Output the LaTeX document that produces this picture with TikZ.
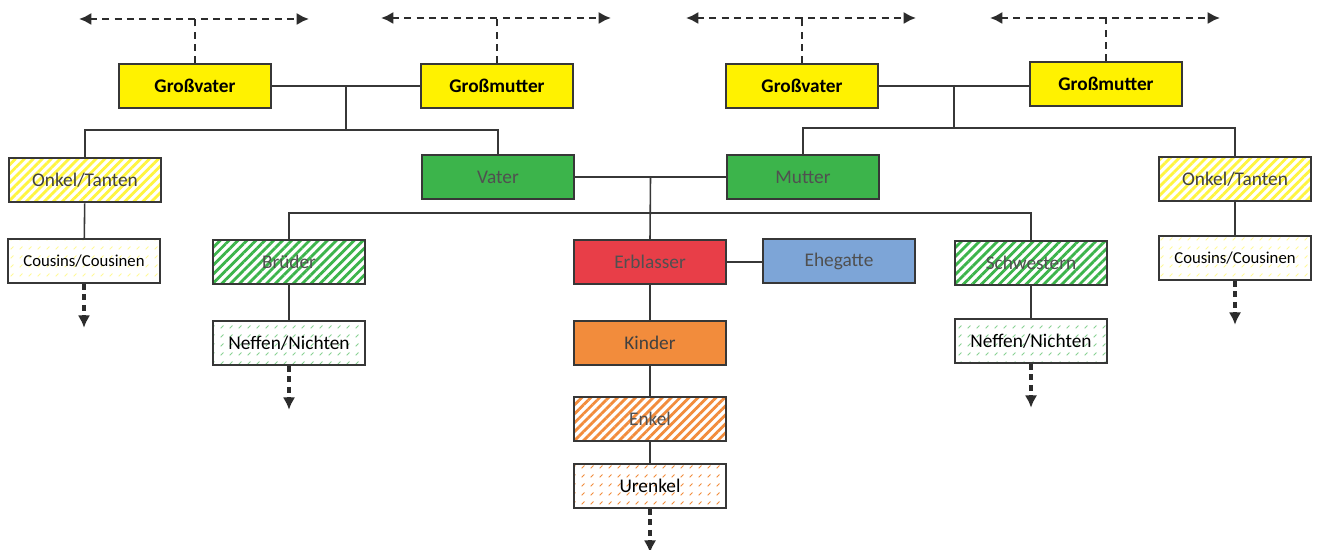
\documentclass[tikz,border=0pt]{standalone}
\usepackage{fontspec}
\setmainfont{Carlito}
\usetikzlibrary{arrows.meta,patterns.meta,calc}

\definecolor{gelb}{RGB}{255,242,0}
\definecolor{gruen}{RGB}{60,180,75}
\definecolor{rot}{RGB}{232,62,72}
\definecolor{blau}{RGB}{125,165,215}
\definecolor{orangeton}{RGB}{242,140,60}
\definecolor{linie}{RGB}{55,55,55}
\definecolor{schrift}{RGB}{80,80,80}

\pgfdeclarepattern{
  name=Strichel,
  type=uncolored,
  bottom left={\pgfpoint{0pt}{0pt}},
  top right={\pgfpoint{5pt}{5pt}},
  tile size={\pgfpoint{5pt}{5pt}},
  code={
    \pgfsetlinewidth{0.45pt}
    \pgfpathmoveto{\pgfpoint{1pt}{1pt}}
    \pgfpathlineto{\pgfpoint{2.6pt}{2.6pt}}
    \pgfusepath{stroke}
  }
}

\begin{document}
\begin{tikzpicture}[x=0.02cm, y=-0.02cm,
  box/.style={draw=linie, line width=0.9pt, minimum width=3.04cm, minimum height=0.88cm, inner sep=0pt, font=\fontsize{11}{13}\selectfont},
  voll/.style={box, fill=#1, text=schrift},
  streifen/.style={box, text=schrift, preaction={fill=white}, pattern={Lines[angle=45,distance=3.6pt,line width=1.6pt]}, pattern color=#1},
  strichel/.style={box, text=black, preaction={fill=white}, pattern=Strichel, pattern color=#1},
  link/.style={draw=linie, line width=0.9pt},
  dasharrow/.style={draw=linie!80!black, line width=1.5pt, dash pattern=on 4pt off 3pt, arrows={-Latex[length=7pt,width=7pt]}}]
  \useasboundingbox (0,0) rectangle (1317,550);

  % Grosseltern
  \node[voll=gelb, text=black, font=\fontsize{11}{13}\selectfont\bfseries] (gv1) at (195,86) {Großvater};
  \node[voll=gelb, text=black, font=\fontsize{11}{13}\selectfont\bfseries] (gm1) at (497,86) {Großmutter};
  \node[voll=gelb, text=black, font=\fontsize{11}{13}\selectfont\bfseries] (gv2) at (802,86) {Großvater};
  \node[voll=gelb, text=black, font=\fontsize{11}{13}\selectfont\bfseries] (gm2) at (1106,84) {Großmutter};

  % Eltern und Onkel
  \node[streifen=gelb!75, text=black!75] (ot1) at (85,180) {Onkel/Tanten};
  \node[voll=gruen] (vater) at (498,177) {Vater};
  \node[voll=gruen] (mutter) at (803,177) {Mutter};
  \node[streifen=gelb!75, text=black!75] (ot2) at (1235,179) {Onkel/Tanten};

  % Erblasser-Ebene
  \node[strichel=gelb!40, font=\fontsize{9.5}{11}\selectfont] (cous1) at (84,261) {Cousins/Cousinen};
  \node[streifen=gruen] (brueder) at (289,262) {Brüder};
  \node[voll=rot] (erbl) at (650,262) {Erblasser};
  \node[voll=blau] (ehe) at (839,261) {Ehegatte};
  \node[streifen=gruen] (schw) at (1031,263) {Schwestern};
  \node[strichel=gelb!40, font=\fontsize{9.5}{11}\selectfont] (cous2) at (1235,258) {Cousins/Cousinen};

  % Nachkommen
  \node[strichel=gruen!60] (neff1) at (289,343) {Neffen/Nichten};
  \node[voll=orangeton, text=black!75] (kind) at (650,343) {Kinder};
  \node[strichel=gruen!60] (neff2) at (1031,341) {Neffen/Nichten};
  \node[streifen=orangeton] (enkel) at (650,419) {Enkel};
  \node[strichel=orangeton] (urenkel) at (650,486) {Urenkel};

  % Verbindungen
  \coordinate (j1) at ($(gv1.east)!.5!(gm1.west)$);
  \coordinate (b1) at (343,130);
  \coordinate (j2) at ($(gv2.east)!.5!(gm2.west)$);
  \coordinate (b2) at (954,128);
  \coordinate (j3) at ($(vater.east)!.5!(mutter.west)$);
  \coordinate (b3) at (650,213);

  \draw[link] (gv1) -- (gm1);
  \draw[link] (j1) -- (j1 |- b1);
  \draw[link] (ot1.north) |- (b1) -| (vater.north);
  \draw[link] (gv2.east) -- (gv2.east -| gm2.west);
  \draw[link] (j2) -- (j2 |- b2);
  \draw[link] (mutter.north) |- (b2) -| (ot2.north);
  \draw[link] (vater) -- (mutter);
  \draw[link] (j3) -- (erbl.north);
  \draw[link] (brueder.north) |- (b3) -| (schw.north);
  \draw[link] (erbl.east) -- (erbl.east -| ehe.west);
  \draw[link] (ot1) -- (cous1);
  \draw[link] (ot2) -- (cous2);
  \draw[link] (brueder) -- (neff1);
  \draw[link] (schw) -- (neff2);
  \draw[link] (erbl) -- (kind);
  \draw[link] (kind) -- (enkel);
  \draw[link] (enkel) -- (urenkel);

  % offene Linien nach oben
  \foreach \n/\y in {gv1/19, gm1/18, gv2/18, gm2/18} {
    \coordinate (\n-top) at ($(\n.north |- 0,\y)$);
    \draw[dasharrow, line width=1.2pt, arrows=-] (\n.north) -- (\n-top);
    \draw[dasharrow, arrows={Latex[length=7pt,width=7pt]-Latex[length=7pt,width=7pt]}] ($(\n-top)+(-116,0)$) -- ($(\n-top)+(114,0)$);
  }

  % offene Linien nach unten
  \foreach \n in {cous1, neff1, urenkel, neff2, cous2}
    \draw[dasharrow, line width=2pt, dash pattern=on 3.5pt off 2.5pt] (\n.south) -- ++(0,44);
\end{tikzpicture}
\end{document}
